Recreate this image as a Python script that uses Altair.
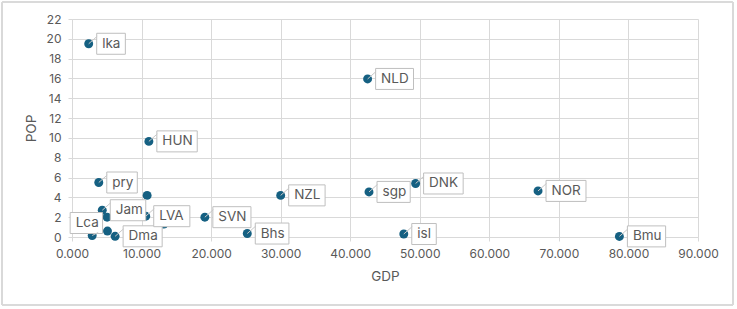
import altair as alt
import pandas as pd

# ---- data ----
labels = ["lka", "HUN", "NLD", "pry", "", "Jam", "", "", "Lca", "Dma",
          "LVA", "", "SVN", "Bhs", "NZL", "sgp", "DNK", "isl", "NOR", "Bmu"]
gdp = [2.4, 11.05, 42.5, 3.85, 10.8, 4.35, 5.05, 5.1, 2.9, 6.2,
       10.6, 13.2, 19.1, 25.2, 30.0, 42.7, 49.4, 47.7, 67.0, 78.7]
pop = [19.5, 9.65, 15.95, 5.5, 4.2, 2.7, 2.0, 0.6, 0.15, 0.07,
       2.1, 1.3, 2.0, 0.35, 4.2, 4.55, 5.4, 0.3, 4.65, 0.06]

x_ticks = list(range(0, 91, 10))
y_ticks = list(range(0, 23, 2))

# ---- layout / style ----
W, H = 626, 218
PAD = {"left": 72, "top": 19, "right": 39, "bottom": 72}
XMAX, YMAX = 90, 22
SX, SY = XMAX / W, YMAX / H          # data units per pixel
FONT = "Inter"
TXT = "#595959"
GRID = "#D9D9D9"
DOT = "#156082"
BOX_H = 21
FS = 13.5

char_w = {"H": 9.4, "U": 9.4, "N": 9.5, "L": 7.0, "D": 9.4, "V": 8.6, "A": 8.6,
          "S": 8.0, "Z": 8.0, "K": 8.6, "O": 10.0, "R": 8.4, "B": 8.4, "J": 6.0,
          "l": 3.4, "i": 3.4, "k": 6.6, "a": 7.0, "m": 10.6, "s": 6.2, "g": 7.6,
          "p": 7.6, "r": 4.6, "y": 6.6, "u": 7.2, "h": 7.2, "c": 6.6}
left_side = {"Lca"}  # labels that Excel moved up-left


def text_w(s):
    return sum(char_w.get(c, 7.5) for c in s) * FS / 13


rows = []
for lab, gx, py in zip(labels, gdp, pop):
    if not lab:
        continue
    bw = text_w(lab) + 11
    if lab in left_side:
        bx0, cy = -22, -12.5   # box to the upper left
        lx, ly = 6, -3
    else:
        bx0, cy = 8, 0
        lx, ly = 8.5, -7.5
    rows.append({
        "label": lab, "GDP": gx, "POP": py,
        "bx1": gx + bx0 * SX, "bx2": gx + (bx0 + bw) * SX,
        "by1": py - (cy - BOX_H / 2) * SY, "by2": py - (cy + BOX_H / 2) * SY,
        "tx": gx + (bx0 + 5.5) * SX, "ty": py - cy * SY,
        "lx": gx + lx * SX, "ly": py - ly * SY,
    })

pts = pd.DataFrame({"label": labels, "GDP": gdp, "POP": pop})
lab_df = pd.DataFrame(rows)


def xs():
    return alt.Scale(domain=[0, XMAX], nice=False, zero=False)


def ys():
    return alt.Scale(domain=[0, YMAX], nice=False, zero=False)


def ax_x():
    return alt.Axis(values=x_ticks, format=".3f", title="GDP",
                    labelOverlap=False, labelFlush=False, labelBound=False)


def ax_y():
    return alt.Axis(values=y_ticks, format="d", title="POP",
                    labelOverlap=False, labelFlush=False, labelBound=False)


points = alt.Chart(pts).mark_circle(size=80, color=DOT, opacity=1).encode(
    x=alt.X("GDP:Q", scale=xs(), axis=ax_x()),
    y=alt.Y("POP:Q", scale=ys(), axis=ax_y()),
)

frame = alt.Chart(pts).mark_rect(filled=False, stroke=GRID, strokeWidth=1.2,
                                  cornerRadius=2).encode(
    x=alt.value(2 - PAD["left"]), x2=alt.value(733 - PAD["left"]),
    y=alt.value(2 - PAD["top"]), y2=alt.value(305 - PAD["top"]),
)

leaders = alt.Chart(lab_df).mark_rule(color="#C8C8C8", strokeWidth=1).encode(
    x=alt.X("GDP:Q", scale=xs(), axis=ax_x()),
    y=alt.Y("POP:Q", scale=ys(), axis=ax_y()),
    x2="lx:Q", y2="ly:Q",
)

boxes = alt.Chart(lab_df).mark_rect(fill="white", stroke="#BFBFBF",
                                    strokeWidth=1).encode(
    x=alt.X("bx1:Q", scale=xs(), axis=ax_x()), x2="bx2:Q",
    y=alt.Y("by1:Q", scale=ys(), axis=ax_y()), y2="by2:Q",
)

texts = alt.Chart(lab_df).mark_text(align="left", baseline="middle", font=FONT,
                                    fontSize=FS, color=TXT).encode(
    x=alt.X("tx:Q", scale=xs(), axis=ax_x()),
    y=alt.Y("ty:Q", scale=ys(), axis=ax_y()),
    text="label:N",
)

chart = alt.layer(points, frame, boxes, leaders, texts).properties(
    width=W, height=H,
    autosize=alt.AutoSizeParams(type="none"),
    padding=PAD,
    background="white",
).configure_view(stroke=None).configure_axis(
    labelFont=FONT, labelFontSize=12, labelColor=TXT,
    titleFont=FONT, titleFontSize=13.5, titleColor=TXT, titleFontWeight="normal",
    gridColor=GRID, gridWidth=1, domainColor=GRID, tickColor=GRID,
    tickSize=4, labelOverlap=False, labelFlush=False,
).configure_axisX(
    labelPadding=7, titlePadding=10,
).configure_axisY(
    labelPadding=7, titlePadding=8,
)

chart.save("out.html", embed_options={"renderer": "svg", "actions": False})
